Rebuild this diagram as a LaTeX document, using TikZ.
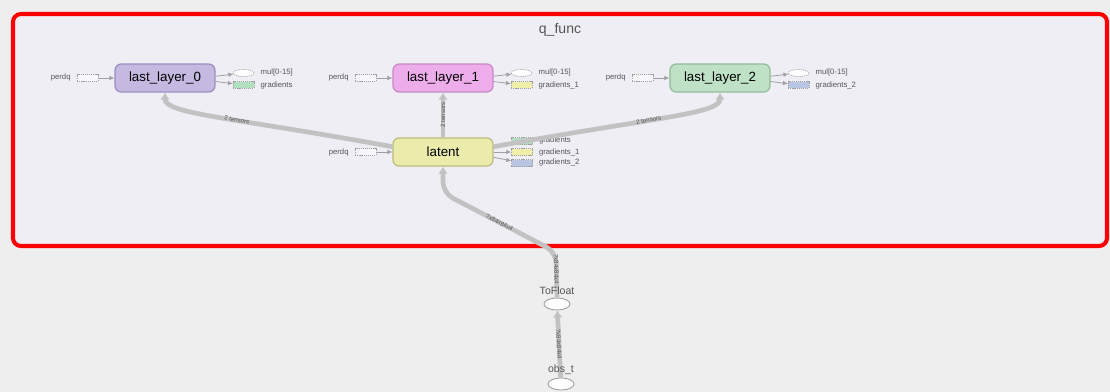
\documentclass[tikz,border=0pt]{standalone}
\usepackage{fontspec}
\setmainfont{Liberation Sans}
\usetikzlibrary{arrows.meta,positioning,shapes.geometric}

\definecolor{pagegray}{HTML}{EEEEEE}
\definecolor{groupfill}{HTML}{F0EEF5}
\definecolor{flowgray}{HTML}{C2C2C2}
\definecolor{stubgray}{HTML}{A0A0A0}
\definecolor{txtgray}{HTML}{555555}
\definecolor{purplefill}{HTML}{C5B9E1}
\definecolor{purpleline}{HTML}{9A8BC2}
\definecolor{pinkfill}{HTML}{EDADEB}
\definecolor{pinkline}{HTML}{C688C4}
\definecolor{greenfill}{HTML}{BFE2C7}
\definecolor{greenline}{HTML}{8EBA9B}
\definecolor{yellowfill}{HTML}{EBEBAB}
\definecolor{yellowline}{HTML}{BBBB7C}
\definecolor{stubgreen}{HTML}{B3DFC1}
\definecolor{stubyellow}{HTML}{EFEFA9}
\definecolor{stubblue}{HTML}{B8C5E3}

\begin{document}
\begin{tikzpicture}[x=0.02cm, y=-0.02cm,
    op node/.style={draw, rounded corners=3.5pt, line width=0.7pt, minimum width=2cm,
                    minimum height=0.56cm, font=\fontsize{7.6}{9}\selectfont},
    stub/.style={draw=stubgray, dash pattern=on 0.7pt off 0.5pt, line width=0.35pt,
                 minimum width=0.42cm, minimum height=0.14cm, inner sep=0pt},
    stub label/.style={font=\fontsize{4.4}{5}\selectfont, text=txtgray, inner sep=0.5pt},
    port/.style={draw=stubgray, line width=0.45pt, -{Latex[length=2.8pt,width=2.6pt]}},
    data flow/.style={draw=flowgray, line width=2.7pt, -{Latex[length=4pt,width=5.5pt]}},
    flow label/.style={font=\fontsize{3.5}{4}\selectfont, text=txtgray, inner sep=0pt, sloped},
    const/.style={ellipse, draw=stubgray, fill=white, line width=0.5pt,
                  minimum width=0.52cm, minimum height=0.24cm, inner sep=0pt}]

  % page and the q_func group
  \fill[pagegray] (0,0) rectangle (1110,392);
  \useasboundingbox (0,0) rectangle (1110,392);
  \draw[red, line width=2.3pt, fill=groupfill, rounded corners=4.5pt] (13,14) rectangle (1107,246);
  \node[font=\fontsize{8}{10}\selectfont, text=txtgray] (title) at (560,30) {q\_func};

  % main ops
  \node[op node, fill=purplefill, draw=purpleline] (ll0) at (165,78) {last\_layer\_0};
  \node[op node, fill=pinkfill, draw=pinkline] (ll1) at (443,78) {last\_layer\_1};
  \node[op node, fill=greenfill, draw=greenline] (ll2) at (720,78) {last\_layer\_2};
  \node[op node, fill=yellowfill, draw=yellowline] (lat) at (443,152) {latent};

  % inputs outside the group
  \node[const] (tf) at (557,304) {};
  \node[const] (obs) at (561,384) {};

  % perdq stubs
  \foreach \op in {ll0,ll1,ll2,lat} {
    \node[stub, fill=groupfill!50!white] (p-\op) [left=0.32cm of \op] {};
    \node[stub label] [left=0.1cm of p-\op] {perdq};
    \draw[port] (p-\op) -- (\op);
  }

  % outputs of the last layers
  \foreach \op/\gcol/\gname in {ll0/stubgreen/gradients, ll1/stubyellow/gradients\_1, ll2/stubblue/gradients\_2} {
    \node[stub, ellipse, fill=white] (m-\op) at ([shift={(28,-5)}]\op.east) {};
    \node[stub, fill=\gcol] (g-\op) at ([shift={(28,7)}]\op.east) {};
    \node[stub label, anchor=west] at ([xshift=0.1cm]m-\op.east) {mul[0-15]};
    \node[stub label, anchor=west] at ([xshift=0.1cm]g-\op.east) {\gname};
    \draw[port] ([yshift=1pt]\op.east) -- (m-\op);
    \draw[port] ([yshift=-2pt]\op.east) -- (g-\op);
  }

  % outputs of latent
  \node[stub, fill=stubgreen] (lg0) at (522,141) {};
  \node[stub, fill=stubyellow] (lg1) at (522,152) {};
  \node[stub, fill=stubblue] (lg2) at (522,163) {};
  \node[stub label, anchor=west] at ([xshift=0.1cm]lg0.east) {gradients};
  \node[stub label, anchor=west] at ([xshift=0.1cm]lg1.east) {gradients\_1};
  \node[stub label, anchor=west] at ([xshift=0.1cm]lg2.east) {gradients\_2};
  \draw[port] ([yshift=3pt]lat.east) -- (lg0);
  \draw[port] (lat.east) -- (lg1);
  \draw[port] ([yshift=-3pt]lat.east) -- (lg2);

  % data flow
  \draw[data flow] (obs) -- node[flow label] {?x84x84x4} (tf);
  \draw[data flow, rounded corners=0.22cm] (tf.north) -- node[flow label, pos=0.62] {?x84x84x4} (556,252)
      -- node[flow label] {?x84x84x4} (443,193) -- (lat.south);
  \draw[data flow] ([yshift=3pt]lat.west) .. controls (230,117) and (165,114) .. node[flow label, pos=0.42] {2 tensors} (ll0.south);
  \draw[data flow] (lat.north) -- node[flow label] {2 tensors} (ll1.south);
  \draw[data flow] ([yshift=3pt]lat.east) .. controls (656,117) and (720,114) .. node[flow label, pos=0.42] {2 tensors} (ll2.south);

  % labels of the inputs, over the flow lines
  \node[font=\fontsize{6}{7}\selectfont, text=txtgray, inner sep=0pt] (tf label) at (557,291) {ToFloat};
  \node[font=\fontsize{6}{7}\selectfont, text=txtgray, inner sep=0pt] (obs label) at (561,370) {obs\_t};
\end{tikzpicture}
\end{document}
